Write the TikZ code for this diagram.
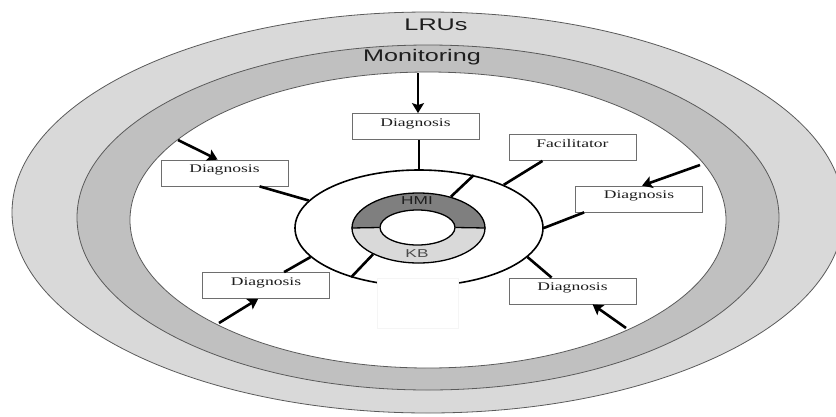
\documentclass[tikz,border=0pt]{standalone}
\usepackage{fontspec}
\usepackage{graphicx}
\usetikzlibrary{arrows.meta,shapes.geometric,calc}
\newfontfamily\sansf{Liberation Sans}
\newfontfamily\seriff{Liberation Serif}
\definecolor{lrugray}{HTML}{D9D9D9}
\definecolor{mongray}{HTML}{C0C0C0}
\definecolor{hmigray}{HTML}{7F7F7F}
\definecolor{edgegray}{HTML}{5A5A5A}
\definecolor{boxgray}{HTML}{6E6E6E}
\definecolor{txtgray}{HTML}{1E1E1E}
\newcommand{\wide}[1]{\scalebox{1.5}[1]{#1}}
\begin{document}
\begin{tikzpicture}[x=1pt,y=-1pt,
  bigring/.style={draw=edgegray,line width=0.8pt},
  diagbox/.style={draw=boxgray,fill=white,line width=0.8pt,minimum width=127pt,minimum height=26pt,inner sep=0pt,
     text height=8pt,text depth=8.5pt,text=txtgray,font=\seriff\fontsize{11.7}{13}\selectfont},
  spoke/.style={line width=2.6pt},
  feed/.style={line width=2.6pt,-{Stealth[length=10pt,width=12pt,inset=2pt]}},
  ringtext/.style={font=\sansf\fontsize{11.5}{13}\selectfont,inner sep=0pt}
]
\useasboundingbox (0,0) rectangle (836,416);
% big rings
\filldraw[bigring,fill=lrugray] (428,212.5) ellipse [x radius=416,y radius=200.5];
\filldraw[bigring,fill=mongray] (428,217.5) ellipse [x radius=351,y radius=172.5];
\filldraw[bigring,fill=white] (428,220) ellipse [x radius=298,y radius=148];
\node[font=\sansf\fontsize{16.8}{18}\selectfont,text=txtgray,inner sep=0pt] (lru) at (436,25) {\wide{LRUs}};
\node[font=\sansf\fontsize{16.8}{18}\selectfont,text=txtgray,inner sep=0pt] (mon) at (422,57) {\wide{Monitoring}};
% core ellipse
\node[ellipse,draw,line width=1.6pt,fill=white,minimum width=248pt,minimum height=116pt,inner sep=0pt] (core) at (419,228) {};
% white patch
\node[draw=black!4,fill=white,minimum width=81pt,minimum height=50pt,inner sep=0pt] (patch) at (417.5,303) {};
% HMI / KB ring
\fill[hmigray] (418.5,228) ellipse [x radius=66.5,y radius=35];
\begin{scope}
\clip (340,228) rectangle (500,270);
\fill[lrugray] (418.5,228) ellipse [x radius=66.5,y radius=35];
\end{scope}
\node[ellipse,draw,line width=1.3pt,minimum width=133pt,minimum height=70pt,inner sep=0pt] (ring) at (418.5,228) {};
\node[ellipse,draw,line width=1.3pt,fill=white,minimum width=75pt,minimum height=35pt,inner sep=0pt] (hole) at (417.5,227.5) {};
\draw[line width=1.3pt] (ring.west) -- (hole.west);
\draw[line width=1.3pt] (ring.east) -- (hole.east);
\node[ringtext,text=txtgray] (hmi) at (417,201) {\wide{HMI}};
\node[ringtext,text=black!70] (kb) at (417,254) {\wide{KB}};
% boxes
\node[diagbox] (dtop) at (415.5,126.5) {\wide{Diagnosis}};
\node[diagbox] (fac) at (572.5,147.5) {\wide{Facilitator}};
\node[diagbox] (dright) at (639,199) {\wide{Diagnosis}};
\node[diagbox] (dul) at (224.5,173) {\wide{Diagnosis}};
\node[diagbox] (dll) at (266,285.5) {\wide{Diagnosis}};
\node[diagbox] (dlr) at (572.5,291) {\wide{Diagnosis}};
% spokes
\draw[spoke] (core.90) -- (core.90 |- dtop.south);
\draw[spoke] (ring.44) -- (core.44);
\draw[spoke] (ring.210) -- (core.216);
\draw[spoke] (core.27) -- ([xshift=-30pt]fac.south);
\draw[spoke] (core.0) -- ([xshift=9pt]dright.south west);
\draw[spoke] (core.-15) -- ([xshift=43pt]dlr.north west);
\draw[spoke] (core.195) -- ([xshift=82pt]dll.north west);
\draw[spoke] (core.166) -- ([xshift=99pt]dul.south west);
% feeds from monitoring
\coordinate (ftop) at (418,73);
\coordinate (ful) at (178,140);
\coordinate (fur) at (700,165);
\coordinate (fll) at (219,323);
\coordinate (flr) at (626,328);
\draw[feed] (ftop) -- (ftop |- dtop.north);
\draw[feed] (ful) -- ([xshift=57pt]dul.north west);
\draw[feed] (fur) -- ([xshift=67pt]dright.north west);
\draw[feed] (fll) -- ([xshift=56pt]dll.south west);
\draw[feed] (flr) -- ([xshift=84pt]dlr.south west);
\end{tikzpicture}
\end{document}
